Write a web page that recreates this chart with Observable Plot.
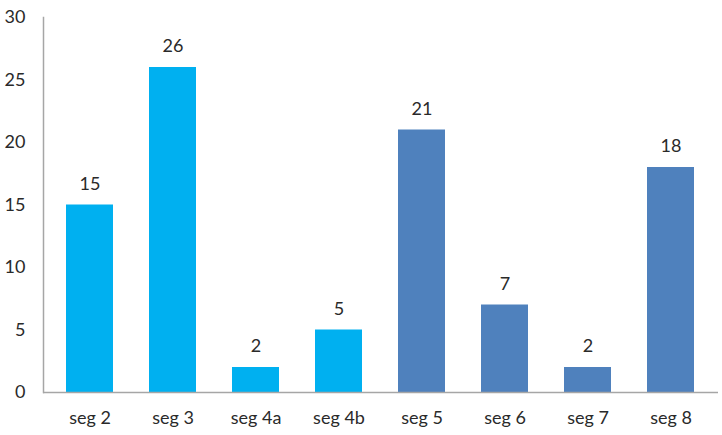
<!DOCTYPE html>
<html>
<head>
<meta charset="utf-8">
<script src="https://cdn.jsdelivr.net/npm/d3@7"></script>
<script src="https://cdn.jsdelivr.net/npm/@observablehq/plot@0.6"></script>
<style>
  html, body { margin: 0; padding: 0; background: #fff; }
  #chart svg { display: block; }
</style>
</head>
<body>
<div id="chart"></div>
<script>
const categories = ["seg 2", "seg 3", "seg 4a", "seg 4b", "seg 5", "seg 6", "seg 7", "seg 8"];
const values = [15, 26, 2, 5, 21, 7, 2, 18];
const groups = ["A", "A", "A", "A", "B", "B", "B", "B"];
const yTicks = [0, 5, 10, 15, 20, 25, 30];

const data = categories.map((c, i) => ({cat: c, value: values[i], group: groups[i]}));

const chart = Plot.plot({
  width: 722,
  height: 435,
  marginLeft: 43,
  marginRight: 4,
  marginTop: 17,
  marginBottom: 43,
  style: {fontFamily: "Lato, sans-serif", fontSize: "18px", color: "#2a2a2a", background: "#fff"},
  x: {domain: categories, paddingInner: 0.43, paddingOuter: 0.238, label: null},
  y: {domain: [0, 30], ticks: yTicks, label: null},
  color: {domain: ["A", "B"], range: ["#00B0F0", "#4F81BD"]},
  marks: [
    Plot.axisY({ticks: yTicks, tickSize: 0, tickPadding: 18, tickFormat: d => String(d), fontSize: 18, label: null}),
    Plot.axisX({tickSize: 0, tickPadding: 19, fontSize: 18, label: null}),
    Plot.barY(data, {x: "cat", y: "value", fill: "group"}),
    Plot.ruleY([0], {stroke: "#a6a6a6", strokeWidth: 1.5}),
    Plot.frame({anchor: "left", stroke: "#a6a6a6", strokeWidth: 1.5}),
    Plot.text(data, {x: "cat", y: "value", text: d => String(d.value), dy: -21, fontSize: 18, fill: "#2a2a2a"})
  ]
});
document.getElementById("chart").appendChild(chart);
</script>
</body>
</html>
